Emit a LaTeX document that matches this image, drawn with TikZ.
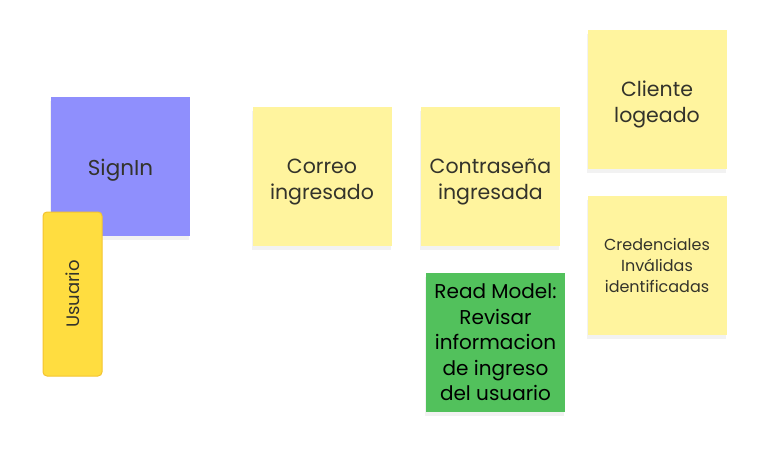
\documentclass[tikz,border=0pt]{standalone}
\usepackage{fontspec}
\setmainfont{Poppins}
\usetikzlibrary{positioning,shadows}

\definecolor{stickyyellow}{HTML}{FFF49E}
\definecolor{stickypurple}{HTML}{8F8FFD}
\definecolor{stickygreen}{HTML}{52C15C}
\definecolor{actoryellow}{HTML}{FFDD40}
\definecolor{actorborder}{HTML}{F4C430}
\definecolor{notetext}{HTML}{33332B}

% extra height on the first line pushes the text down a bit
\newcommand{\padtop}[1]{\rule{0pt}{#1}}

\begin{document}
\begin{tikzpicture}
[x=1pt,y=-1pt,
every node/.style={align=center,text=notetext,inner sep=2pt},
sticky/.style={minimum width=139pt,minimum height=139pt,
  drop shadow={shadow xshift=-1pt,shadow yshift=-4pt,opacity=0.1},font=\fontsize{20.5}{25.5}\selectfont},
event/.style={sticky,fill=stickyyellow},
command/.style={sticky,fill=stickypurple},
readmodel/.style={sticky,fill=stickygreen,text=black},
actor/.style={fill=actoryellow,draw=actorborder,line width=1pt,rounded corners=4pt,
  minimum width=59pt,minimum height=164pt}]
\useasboundingbox (0,0) rectangle (774,466);
\node[command,font=\fontsize{21.5}{26}\selectfont] (signin) at (120.5,166) {\padtop{24pt}SignIn};
\node[actor] (usuario) at (72.5,294) {};
\node[rotate=90,font=\fontsize{18}{22}\selectfont] (usuariolbl) at (usuario) {Usuario};
\node[event] (correo) at (322,176.5) {\padtop{26pt}Correo\\ingresado};
\node[event,right=29pt of correo] (contra) {\padtop{26pt}Contraseña\\ingresada};
\node[readmodel,font=\fontsize{20}{25.5}\selectfont] (readm) at (495.5,342.5) {Read Model:\\Revisar\\informacion\\de ingreso\\del usuario};
\node[event] (cliente) at (657,99.5) {\padtop{26pt}Cliente\\logeado};
\node[event,below=27pt of cliente,font=\fontsize{16}{21}\selectfont] (cred) {Credenciales\\Inválidas\\identificadas};
\end{tikzpicture}
\end{document}
